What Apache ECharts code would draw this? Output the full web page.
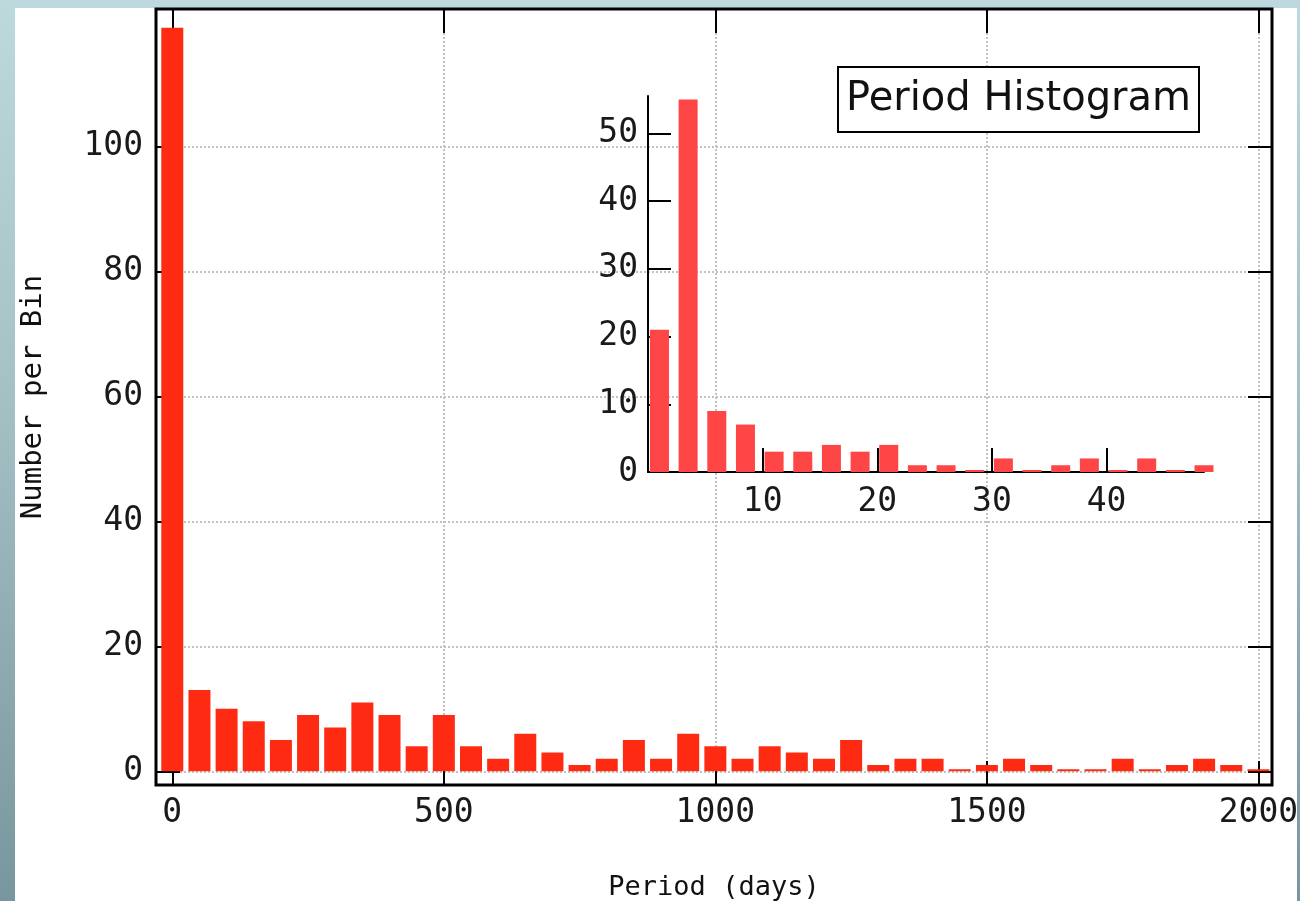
<!DOCTYPE html>
<html lang="en">
<head>
<meta charset="UTF-8">
<title>Period Histogram</title>
<style>
    html, body { margin: 0; padding: 0; }
    body {
        width: 1300px; height: 901px; overflow: hidden;
        background: linear-gradient(to bottom, #bdd9dd 0%, #a3c0c5 45%, #78969d 100%);
    }
    #panel { position: absolute; left: 15px; top: 8px; width: 1282px; height: 893px; background: #fff; }
    #main { position: absolute; left: 0; top: 0; width: 1300px; height: 901px; }
</style>
</head>
<body>
<div id="panel"></div>
<div id="main"></div>
<script src="https://cdn.jsdelivr.net/npm/echarts@6/dist/echarts.min.js"></script>
<script>
// main histogram: bin centre (days) -> number per bin
var periodBins = [0, 50, 100, 150, 200, 250, 300, 350, 400, 450, 500, 550, 600, 650, 700, 750, 800, 850, 900, 950,
    1000, 1050, 1100, 1150, 1200, 1250, 1300, 1350, 1400, 1450, 1500, 1550, 1600, 1650, 1700, 1750, 1800, 1850, 1900, 1950, 2000];
var periodCounts = [119, 13, 10, 8, 5, 9, 7, 11, 9, 4, 9, 4, 2, 6, 3, 1, 2, 5, 2, 6,
    4, 2, 4, 3, 2, 5, 1, 2, 2, 0, 1, 2, 1, 0, 0, 2, 0, 1, 2, 1, 0];

// inset: the first 50 days, finer bins
var shortBins = [1, 3.5, 6, 8.5, 11, 13.5, 16, 18.5, 21, 23.5, 26, 28.5, 31, 33.5, 36, 38.5, 41, 43.5, 46, 48.5];
var shortCounts = [21, 55, 9, 7, 3, 3, 4, 3, 4, 1, 1, 0, 2, 0, 1, 2, 0, 2, 0, 1];

// tick labels
var mainXTicks = [0, 500, 1000, 1500, 2000];
var mainYTicks = [0, 20, 40, 60, 80, 100];
var insetXTicks = [10, 20, 30, 40];
var insetYTicks = [0, 10, 20, 30, 40, 50];

var myChart = echarts.init(document.getElementById('main'));

function pairs(xs, ys) {
    var out = [];
    for (var i = 0; i < xs.length; i++) {
        out.push([xs[i], ys[i]]);
    }
    return out;
}

// plain numbers, no thousands separator
function plain(v) {
    return String(v);
}

var monoFont = 'DejaVu Sans Mono';
var tickStyle = { color: '#000', width: 2 };
var dotted = { color: '#c2c2c2', type: [2, 2], width: 2 };

var option = {
    animation: false,
    backgroundColor: 'transparent',
    title: {
        text: 'Period Histogram',
        left: 838,
        top: 67,
        padding: [13, 8, 12, 8],
        backgroundColor: '#fff',
        borderColor: '#000',
        borderWidth: 2,
        textStyle: {
            fontFamily: 'DejaVu Sans',
            fontSize: 40,
            fontWeight: 'normal',
            color: '#111'
        }
    },
    grid: [
        { left: 156, top: 9, width: 1116, height: 776, show: true, borderColor: '#000', borderWidth: 3,
          backgroundColor: 'transparent', containLabel: false, outerBoundsMode: 'none' },
        { left: 648, top: 96, width: 556, height: 376, show: false, containLabel: false, outerBoundsMode: 'none' }
    ],
    xAxis: [
        {
            gridIndex: 0, type: 'value', position: 'bottom',
            min: -30, max: 2025, minInterval: 500, maxInterval: 500,
            axisLine: { show: false, onZero: false },
            axisTick: { inside: true, length: 24, customValues: mainXTicks, lineStyle: tickStyle },
            axisLabel: { customValues: mainXTicks, formatter: plain, fontFamily: monoFont, fontSize: 33, color: '#1a1a1a', margin: 12 },
            splitLine: { show: true, lineStyle: dotted },
            name: 'Period (days)', nameLocation: 'middle', nameGap: 89,
            nameTextStyle: { fontFamily: monoFont, fontSize: 27, color: '#111' }
        },
        {
            gridIndex: 0, type: 'value', position: 'top',
            min: -30, max: 2025, minInterval: 500, maxInterval: 500,
            axisLine: { show: false, onZero: false },
            axisTick: { inside: true, length: 24, customValues: mainXTicks, lineStyle: tickStyle },
            axisLabel: { show: false },
            splitLine: { show: false }
        },
        {
            gridIndex: 1, type: 'value', position: 'bottom',
            min: 0, max: 48.5, minInterval: 10, maxInterval: 10,
            axisLine: { show: true, onZero: false, lineStyle: { color: '#000', width: 2 } },
            axisTick: { inside: true, length: 24, customValues: insetXTicks, lineStyle: tickStyle },
            axisLabel: { customValues: insetXTicks, formatter: plain, fontFamily: monoFont, fontSize: 33, color: '#1a1a1a', margin: 14 },
            splitLine: { show: false }
        }
    ],
    yAxis: [
        {
            gridIndex: 0, type: 'value', position: 'left',
            min: -2.2, max: 122, minInterval: 20, maxInterval: 20,
            axisLine: { show: false, onZero: false },
            axisTick: { inside: true, length: 24, customValues: mainYTicks, lineStyle: tickStyle },
            axisLabel: { customValues: mainYTicks, formatter: plain, fontFamily: monoFont, fontSize: 33, color: '#1a1a1a', margin: 13 },
            splitLine: { show: true, lineStyle: dotted },
            name: 'Number per Bin', nameLocation: 'middle', nameGap: 108, nameRotate: 90,
            nameTextStyle: { fontFamily: monoFont, fontSize: 29, color: '#111' }
        },
        {
            gridIndex: 0, type: 'value', position: 'right',
            min: -2.2, max: 122, minInterval: 20, maxInterval: 20,
            axisLine: { show: false, onZero: false },
            axisTick: { inside: true, length: 24, customValues: mainYTicks, lineStyle: tickStyle },
            axisLabel: { show: false },
            splitLine: { show: false }
        },
        {
            gridIndex: 1, type: 'value', position: 'left',
            min: 0, max: 55.5, minInterval: 10, maxInterval: 10,
            axisLine: { show: true, onZero: false, lineStyle: { color: '#000', width: 2 } },
            axisTick: { inside: true, length: 23, customValues: insetYTicks, lineStyle: tickStyle },
            axisLabel: { customValues: insetYTicks, formatter: plain, fontFamily: monoFont, fontSize: 33, color: '#1a1a1a', margin: 10 },
            splitLine: { show: false }
        }
    ],
    series: [
        {
            name: 'all periods',
            type: 'bar',
            xAxisIndex: 0,
            yAxisIndex: 0,
            barWidth: 22,
            barMinHeight: 2,
            itemStyle: { color: '#ff2a12' },
            data: pairs(periodBins, periodCounts)
        },
        {
            name: 'short periods',
            type: 'bar',
            xAxisIndex: 2,
            yAxisIndex: 2,
            barWidth: 19,
            barMinHeight: 2,
            clip: false,
            itemStyle: { color: '#ff4646' },
            data: pairs(shortBins, shortCounts)
        }
    ]
};

myChart.setOption(option);
</script>
</body>
</html>
